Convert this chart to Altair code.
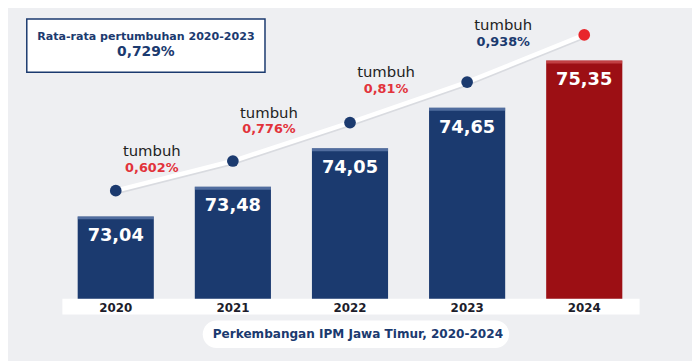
import altair as alt
import pandas as pd

# ---- data ----
years = ["2020", "2021", "2022", "2023", "2024"]
ipm = [73.04, 73.48, 74.05, 74.65, 75.35]
ipm_text = ["73,04", "73,48", "74,05", "74,65", "75,35"]
growth_years = ["2021", "2022", "2023", "2024"]
growth_text = ["0,602%", "0,776%", "0,81%", "0,938%"]
growth_word = "tumbuh"
title_lines = ["Rata-rata pertumbuhan 2020-2023", "0,729%"]
subtitle = "Perkembangan IPM Jawa Timur,  2020-2024"
latest_year = "2024"

NAVY = "#1b3a6f"
RED_BAR = "#9c0f14"
RED_DOT = "#e8262b"
RED_TXT = "#e2333b"
FONT = "DejaVu Sans"
BASE = 71.82

df = pd.DataFrame({
    "year": years,
    "ipm": ipm,
    "label": ipm_text,
    "latest": [y == latest_year for y in years],
})
gdf = pd.DataFrame({
    "year": growth_years,
    "ipm": ipm[1:],
    "growth": growth_text,
    "word": [growth_word] * len(growth_years),
    "latest": [y == latest_year for y in growth_years],
})
one = pd.DataFrame({"t1": [title_lines[0]], "t2": [title_lines[1]], "sub": [subtitle]})

x = alt.X("year:N", sort=years, axis=None,
          scale=alt.Scale(range=[70.5, 621.5], paddingInner=0.35, paddingOuter=0))
y = alt.Y("ipm:Q", axis=None, scale=alt.Scale(domain=[BASE, 76.1], range=[292, 0], nice=False))

base = alt.Chart(df)

# decorations
strip = alt.Chart(one).mark_rect(fill="white").encode(
    x=alt.value(55), x2=alt.value(639), y=alt.value(292), y2=alt.value(308))
pill = alt.Chart(one).mark_rect(fill="white", cornerRadius=14).encode(
    x=alt.value(197), x2=alt.value(507), y=alt.value(314), y2=alt.value(342))
pill_text = alt.Chart(one).mark_text(font=FONT, fontWeight="bold", fontSize=12.2, color=NAVY,
                                     baseline="middle").encode(
    x=alt.value(354), y=alt.value(328), text="sub:N")
box = alt.Chart(one).mark_rect(fill="white", stroke=NAVY, strokeWidth=1.5).encode(
    x=alt.value(19), x2=alt.value(260), y=alt.value(9), y2=alt.value(63))
box_t1 = alt.Chart(one).mark_text(font=FONT, fontWeight="bold", fontSize=11.2, color=NAVY,
                                  baseline="middle").encode(
    x=alt.value(139.5), y=alt.value(27), text="t1:N")
box_t2 = alt.Chart(one).mark_text(font=FONT, fontWeight="bold", fontSize=14, color=NAVY,
                                  baseline="middle").encode(
    x=alt.value(139.5), y=alt.value(42), text="t2:N")

bar_color = alt.when(alt.datum.latest).then(alt.value(RED_BAR)).otherwise(alt.value(NAVY))
bars = base.mark_bar().encode(x=x, y=y, y2=alt.datum(BASE), color=bar_color)
bar_top = base.mark_bar(y2Offset=3, opacity=0.55).encode(
    x=x, y=y, y2="ipm:Q",
    color=alt.when(alt.datum.latest).then(alt.value("#e06a6a")).otherwise(alt.value("#7d97c6")))
bar_text = base.mark_text(font=FONT, fontWeight="bold", fontSize=18, color="white",
                          baseline="middle", yOffset=20).encode(x=x, y=y, text="label:N")
year_text = base.mark_text(font=FONT, fontWeight="bold", fontSize=12, color="#1d1d2b",
                           baseline="middle").encode(x=x, y=alt.value(301), text="year:N")

line_shadow = base.mark_line(color="#9aa0aa", strokeWidth=4, opacity=0.25, yOffset=-24).encode(
    x=x, y=y)
line = base.mark_line(color="white", strokeWidth=4.5, yOffset=-26).encode(x=x, y=y)
dot_color = alt.when(alt.datum.latest).then(alt.value(RED_DOT)).otherwise(alt.value(NAVY))
dots = base.mark_circle(size=140, opacity=1, yOffset=-26).encode(x=x, y=y, color=dot_color)

gbase = alt.Chart(gdf)
g_word = gbase.mark_text(font=FONT, fontSize=15, color="#222222", baseline="middle",
                         xOffset=-82, yOffset=-36).encode(x=x, y=y, text="word:N")
g_pct = gbase.mark_text(font=FONT, fontSize=13, fontWeight="bold", baseline="middle",
                        xOffset=-82, yOffset=-19).encode(
    x=x, y=y, text="growth:N",
    color=alt.when(alt.datum.latest).then(alt.value(NAVY)).otherwise(alt.value(RED_TXT)))

chart = alt.layer(
    strip, pill, pill_text, box, box_t1, box_t2,
    bars, bar_top, bar_text, year_text,
    line_shadow, line, dots, g_word, g_pct,
).properties(
    width=692, height=353,
    autosize=alt.AutoSizeParams(type="none"),
    padding=0,
    background="#eeeff2",
).configure_view(stroke=None)

chart.save("out.html", embed_options={"renderer": "svg", "actions": False})
